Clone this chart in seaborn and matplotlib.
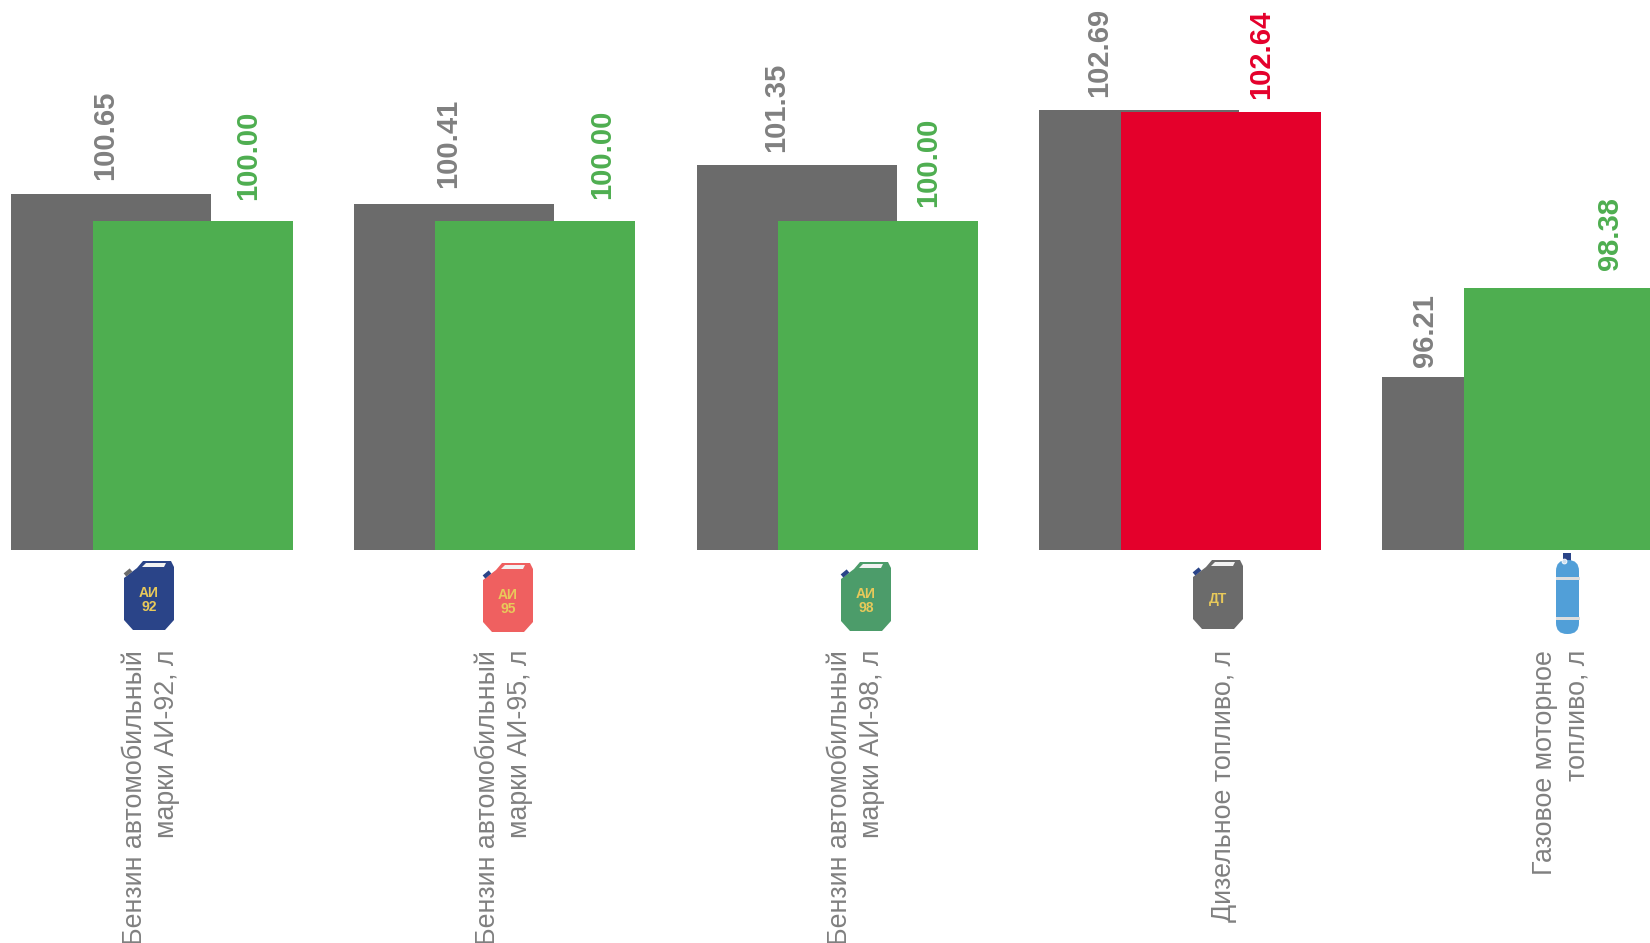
import matplotlib
matplotlib.use("Agg")
import matplotlib.pyplot as plt
from matplotlib.patches import Polygon, FancyBboxPatch, Rectangle
import numpy as np
import pandas as pd
import seaborn as sns

# ---- data ----
categories = ["Бензин автомобильный\nмарки АИ-92, л",
              "Бензин автомобильный\nмарки АИ-95, л",
              "Бензин автомобильный\nмарки АИ-98, л",
              "Дизельное топливо, л",
              "Газовое моторное\nтопливо, л"]
prev_values = [100.65, 100.41, 101.35, 102.69, 96.21]
curr_values = [100.00, 100.00, 100.00, 102.64, 98.38]
curr_status = ["ok", "ok", "ok", "high", "ok"]
icon_labels = ["АИ\n92", "АИ\n95", "АИ\n98", "ДТ"]

# ---- style ----
GRAY, GRAY_TEXT = "#6b6b6b", "#808080"
GREEN, RED = "#4eae50", "#e4002b"
status_colors = {"ok": GREEN, "high": RED}
W, H = 1650, 943
BASE_PX = 550
sns.set_theme(style="white")
plt.rcParams["font.family"] = ["Liberation Sans", "DejaVu Sans"]

fig = plt.figure(figsize=(W / 100, H / 100), dpi=100)
ax = fig.add_axes([0, 1 - BASE_PX / H, 1, BASE_PX / H])

idx = np.arange(len(categories))
STEP = 342.75
OFFSET = 40.7 / STEP
df_prev = pd.DataFrame({"x": idx - OFFSET, "v": prev_values})
df_curr = pd.DataFrame({"x": idx + OFFSET, "v": curr_values, "s": curr_status})
sns.barplot(df_prev, x="x", y="v", native_scale=True, color=GRAY, saturation=1,
            width=200 / STEP, linewidth=0, ax=ax)
sns.barplot(df_curr, x="x", y="v", hue="s", palette=status_colors, dodge=False,
            native_scale=True, saturation=1, width=200 / STEP, linewidth=0,
            legend=False, ax=ax)
ax.set_xlim(-151.8 / STEP, (W - 151.8) / STEP)
ax.set_ylim(92.03, 105.35)
ax.set_axis_off()

# overlay in pixel coordinates for labels and pictograms
ov = fig.add_axes([0, 0, 1, 1], facecolor="none")
ov.set_xlim(0, W)
ov.set_ylim(H, 0)
ov.set_axis_off()

prev_lab_x = [105, 448, 776, 1099, 1425]
prev_lab_y = [180, 188, 152.5, 97, 367]
curr_lab_x = [248, 602, 928, 1261, 1610]
curr_lab_y = [200, 199, 207, 99, 270]
for i in idx:
    ov.text(prev_lab_x[i], prev_lab_y[i], f"{prev_values[i]:.2f}", rotation=90, ha="center",
            va="bottom", fontsize=21, fontweight="bold", color=GRAY_TEXT)
    ov.text(curr_lab_x[i], curr_lab_y[i], f"{curr_values[i]:.2f}", rotation=90, ha="center",
            va="bottom", fontsize=21, fontweight="bold", color=status_colors[curr_status[i]])

cat_x = [151, 504, 856, 1224, 1561]
for i in idx:
    ov.text(cat_x[i], 650, categories[i], rotation=90, ha="center", va="top",
            multialignment="right", fontsize=19.3, color=GRAY_TEXT, linespacing=1.3)


def jerrycan(x0, y0, color, cap, label):
    pts = [(0, 18), (13, 8), (19, 1), (47, 1), (50, 7), (50, 60), (41, 70), (9, 70), (0, 60)]
    ov.add_patch(Polygon([(x0 + a, y0 + b) for a, b in pts], closed=True, fc=color, ec="none"))
    ov.add_patch(Polygon([(x0 + a, y0 + b) for a, b in [(22, 3), (42, 3), (40, 7), (18, 7)]],
                         closed=True, fc="#f2f2f2", ec="none"))
    ov.plot([x0 + 1, x0 + 7], [y0 + 15, y0 + 10], color=cap, lw=3, solid_capstyle="butt")
    ov.text(x0 + 25, y0 + 40, label, ha="center", va="center", fontsize=10, fontweight="bold",
            color="#e8c95a", linespacing=0.95)


jerry_left = [124, 483, 841, 1193]
jerry_top = [560, 562, 561, 559]
jerry_color = ["#2a4488", "#ef6060", "#4c9c6a", GRAY]
jerry_cap = [GRAY, "#2a4488", "#2a4488", "#2a4488"]
for k in range(4):
    jerrycan(jerry_left[k], jerry_top[k], jerry_color[k], jerry_cap[k], icon_labels[k])

# gas bottle
ov.add_patch(Rectangle((1563, 553), 8, 8, fc="#2a4488", ec="none"))
ov.add_patch(FancyBboxPatch((1556 + 11, 560 + 11), 1, 52, boxstyle="round,pad=11,rounding_size=11",
                            fc="#519fd8", ec="none"))
ov.add_patch(Rectangle((1555.5, 576.5), 24, 3.5, fc="#dddddd", ec="none"))
ov.add_patch(Rectangle((1555.5, 616.5), 24, 3.5, fc="#dddddd", ec="none"))
ov.plot([1564], [561], "o", ms=3.5, mfc="#cfe0f0", mec="white", mew=0.6)

fig.savefig("out.png", dpi=100, facecolor="white")
